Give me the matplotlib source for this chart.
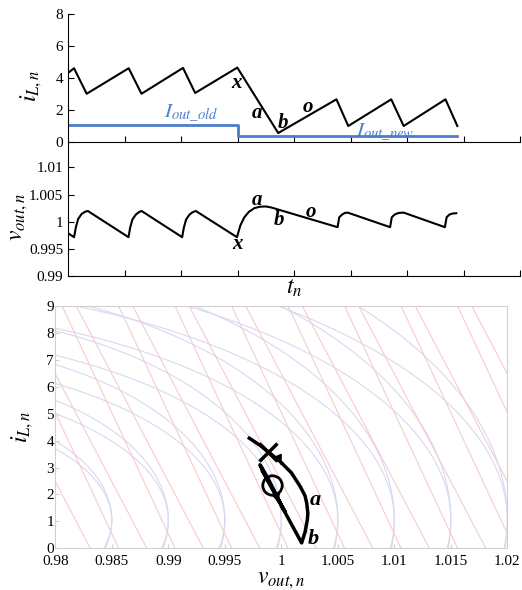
import numpy as np
import matplotlib
matplotlib.use("Agg")
import matplotlib.pyplot as plt

plt.rcParams['font.family'] = ['Liberation Serif', 'DejaVu Serif']
plt.rcParams['mathtext.fontset'] = 'stix'

# --- top panel: inductor current ---
t_il = [0, 0.106, 0.33, 1.074, 1.30, 2.035, 2.25, 2.996, 3.72, 4.75, 4.96, 5.72, 5.94, 6.68, 6.89]
il = [4.3, 4.6, 3.0, 4.6, 3.0, 4.62, 3.05, 4.64, 0.54, 2.65, 0.98, 2.65, 0.98, 2.65, 0.98]
t_iout = [0, 3.0, 3.0, 6.89]
iout = [1.02, 1.02, 0.35, 0.35]

# --- middle panel: output voltage ---
t_v = [0, 0.107, 0.14, 0.18, 0.24, 0.30, 0.35,
       1.07, 1.10, 1.14, 1.20, 1.25, 1.30,
       2.02, 2.05, 2.09, 2.15, 2.20, 2.26,
       2.99, 3.05, 3.12, 3.20, 3.30, 3.40, 3.50, 3.60,
       4.77, 4.80, 4.85, 4.90, 4.95,
       5.70, 5.73, 5.78, 5.85, 5.94,
       6.67, 6.70, 6.75, 6.81, 6.87]
vout = [0.99786, 0.99712, 0.9990, 1.0005, 1.0014, 1.0018, 1.00197,
        0.99712, 0.9989, 1.0004, 1.0013, 1.0017, 1.00197,
        0.99712, 0.9989, 1.0004, 1.0013, 1.0017, 1.00197,
        0.99712, 0.9993, 1.0008, 1.0018, 1.0025, 1.00275, 1.0028, 1.0026,
        0.99897, 1.0008, 1.0013, 1.0016, 1.00166,
        0.99897, 1.0008, 1.0013, 1.0016, 1.00166,
        0.99897, 1.0008, 1.0013, 1.0015, 1.00155]

# --- bottom panel: state plane trajectory ---
traj_v = [0.99717, 0.9981, 0.99894, 0.99991, 1.0009, 1.00168, 1.0021, 1.00225, 1.00235,
          1.0023, 1.0021, 1.0018, 1.0005, 0.99907, 0.99811, 0.99880, 0.99960, 1.00033,
          0.99960, 0.99880, 0.99830, 0.99890, 0.99960, 1.00010]
traj_i = [4.09, 3.83, 3.55, 3.22, 2.8, 2.29, 1.95, 1.67, 1.3,
          1.05, 0.6, 0.2, 1.2, 2.35, 3.1, 2.6, 1.9, 1.36,
          1.9, 2.5, 2.9, 2.5, 1.95, 1.5]
x_mark = (0.99885, 3.59)
o_mark = (0.99915, 2.35)

# background trajectory families
ell_tangents = [0.985, 0.99, 0.995, 1.0, 1.005, 1.01, 1.015, 1.02]
ellA = dict(vc=0.96, ic=1.05, z=0.00566)
ellB = dict(vc=0.965, ic=1.05, z=0.0045)
red_v0_1 = [0.9831 + 0.005 * k for k in range(12)]
red_v0_2 = [0.9856 + 0.005 * k for k in range(12)]
red_slope_1 = -800
red_slope_2 = -900

blue = '#4a7ecd'
lblue = '#d8d8f3'
lred = '#f5cccc'

fig = plt.figure(figsize=(5.22, 5.90), dpi=100)

# top axes
ax1 = fig.add_axes([0.1303, 0.7329, 0.866, 0.2434])
ax1.plot(t_il, il, color='k', lw=1.5)
ax1.plot(t_iout, iout, color=blue, lw=2)
ax1.set_xlim(0, 8)
ax1.set_ylim(-1, 8)
ax1.set_yticks([0, 2, 4, 6, 8])
ax1.set_xticks(range(1, 9))
ax1.set_xticklabels([])
ax1.spines['top'].set_visible(False)
ax1.spines['right'].set_visible(False)
ax1.spines['bottom'].set_position(('data', 0))
ax1.tick_params(direction='in', labelsize=11, length=4)
ax1.set_ylabel(r'$i_{L,n}$', fontsize=17, labelpad=8)
ax1.text(2.17, 1.8, r'$I_{out\_old}$', color=blue, fontsize=15, ha='center', va='center')
ax1.text(5.61, 0.62, r'$I_{out\_new}$', color=blue, fontsize=15, ha='center', va='center')
for s, x, y in [('x', 2.99, 3.67), ('a', 3.35, 1.8), ('b', 3.8, 1.17), ('o', 4.25, 2.17)]:
    ax1.text(x, y, s, fontsize=15, fontweight='bold', style='italic', ha='center', va='center')

# middle axes
ax2 = fig.add_axes([0.1303, 0.5327, 0.866, 0.2002])
ax2.plot(t_v, vout, color='k', lw=1.5)
ax2.set_xlim(0, 8)
ax2.set_ylim(0.99, 1.01183)
ax2.set_yticks([0.99, 0.995, 1.0, 1.005, 1.01])
ax2.set_yticklabels(['0.99', '0.995', '1', '1.005', '1.01'])
ax2.set_xticks(range(1, 9))
ax2.set_xticklabels([])
ax2.spines['top'].set_visible(False)
ax2.spines['right'].set_visible(False)
ax2.tick_params(direction='in', labelsize=11, length=4)
ax2.set_ylabel(r'$v_{out,n}$', fontsize=17, labelpad=-1)
ax2.set_xlabel(r'$t_n$', fontsize=17, labelpad=-2)
for s, x, y in [('a', 3.34, 1.0040), ('b', 3.74, 1.0003), ('o', 4.29, 1.0018), ('x', 3.0, 0.99583)]:
    ax2.text(x, y, s, fontsize=15, fontweight='bold', style='italic', ha='center', va='center')

# bottom axes
ax3 = fig.add_axes([0.1059, 0.0707, 0.866, 0.4107])
th = np.linspace(0, 2 * np.pi, 400)
for p in (ellA, ellB):
    for tv in ell_tangents:
        r = tv - p['vc']
        ax3.plot(p['vc'] + r * np.cos(th), p['ic'] + r / p['z'] * np.sin(th), color=lblue, lw=0.8)
for v0s, s in ((red_v0_1, red_slope_1), (red_v0_2, red_slope_2)):
    for v0 in v0s:
        vv = np.array([v0 - 10 / abs(s), v0 + 1 / abs(s)])
        ax3.plot(vv, s * (vv - v0), color=lred, lw=0.8)
ax3.plot(traj_v, traj_i, color='k', lw=2.5, solid_joinstyle='round')
ax3.plot(*x_mark, marker='x', ms=13, mew=2.5, color='k')
ax3.plot(*o_mark, marker='o', ms=14, mfc='none', mew=2, color='k')
ax3.annotate('', xy=(traj_v[3] + 0.00022, traj_i[3] - 0.2), xytext=(traj_v[3], traj_i[3]),
             arrowprops=dict(arrowstyle='-|>', color='k', lw=1.5, mutation_scale=12))
ax3.annotate('', xy=(traj_v[16] + 0.0002, traj_i[16] - 0.3), xytext=(traj_v[16], traj_i[16]),
             arrowprops=dict(arrowstyle='-|>', color='k', lw=1.5, mutation_scale=12))
ax3.text(1.0030, 1.8, 'a', fontsize=16, fontweight='bold', style='italic', ha='center', va='center')
ax3.text(1.00283, 0.33, 'b', fontsize=16, fontweight='bold', style='italic', ha='center', va='center')
ax3.set_xlim(0.98, 1.02)
ax3.set_ylim(0, 9)
ax3.set_xticks([0.98, 0.985, 0.99, 0.995, 1.0, 1.005, 1.01, 1.015, 1.02])
ax3.set_xticklabels(['0.98', '0.985', '0.99', '0.995', '1', '1.005', '1.01', '1.015', '1.02'])
ax3.set_yticks(range(10))
for sp in ax3.spines.values():
    sp.set_color('#d0d0d0')
ax3.tick_params(direction='in', labelsize=11, length=3, color='#d0d0d0', pad=1)
ax3.tick_params(axis='x', pad=5)
ax3.set_ylabel(r'$i_{L,n}$', fontsize=17, labelpad=8)
ax3.set_xlabel(r'$v_{out,n}$', fontsize=17, labelpad=1)

fig.savefig('out.png', dpi=100)
